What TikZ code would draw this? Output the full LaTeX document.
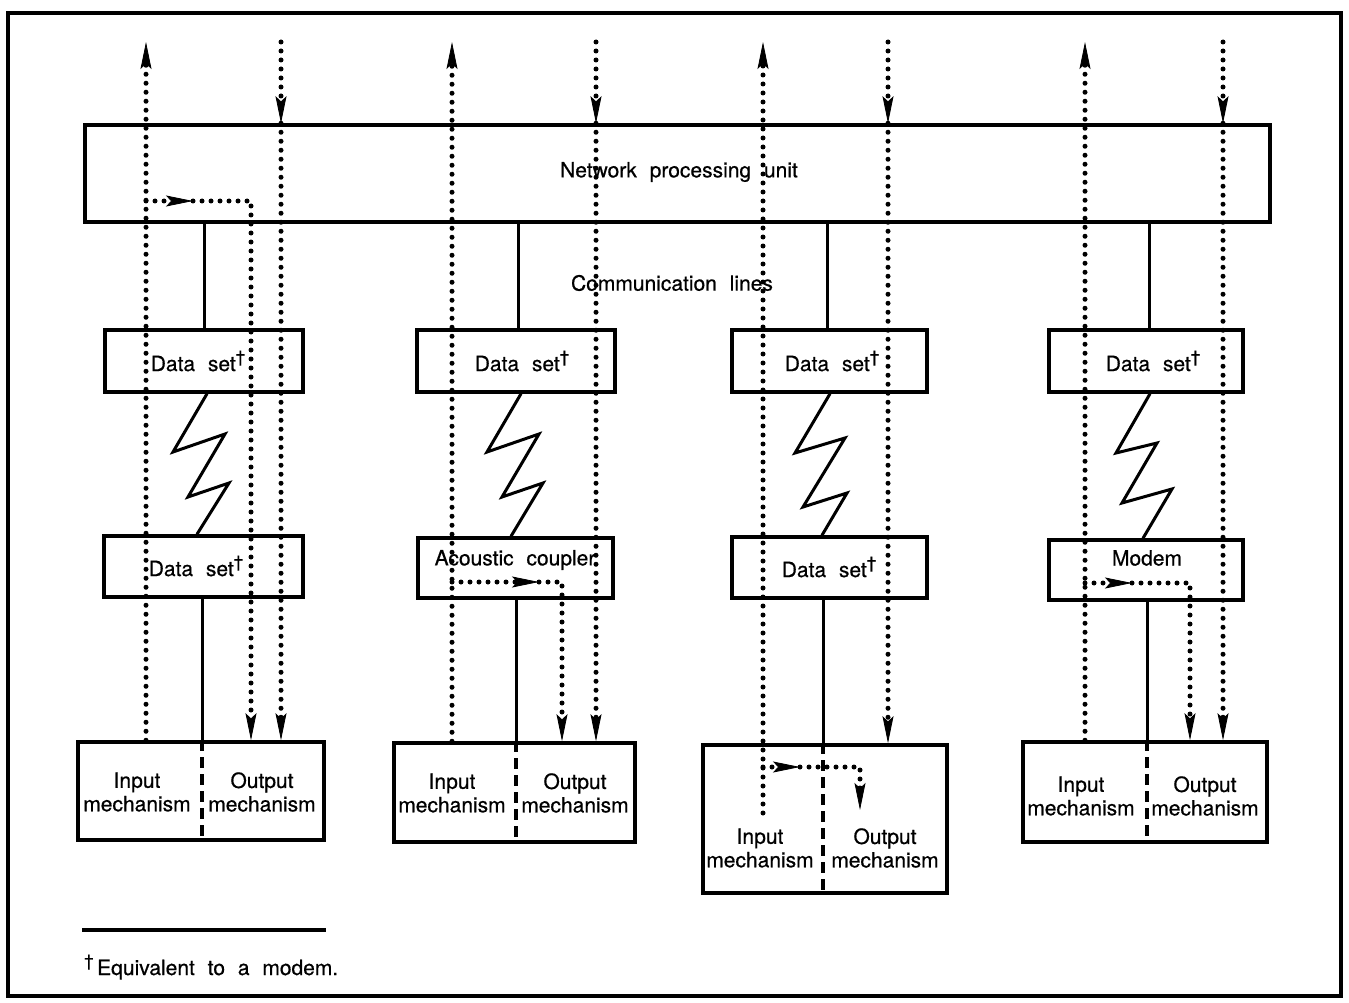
\documentclass[tikz,border=0pt]{standalone}
\usepackage{fontspec}
\setmainfont{TeX Gyre Heros}[WordSpace=2.2, FakeBold=0.6]
\usetikzlibrary{arrows.meta,calc}

% raised footnote dagger
\newcommand{\dagmark}{\raisebox{0.40em}{\fontsize{17}{17}\selectfont †}}

\tikzset{
  box/.style={draw, line width=3.5pt, inner sep=0pt},
  lbl/.style={inner sep=0pt, font=\fontsize{21}{23.5}\selectfont, align=center},
  link/.style={line width=3pt},
  zig/.style={line width=3pt, line join=miter},
  flow/.style={line width=5pt, line cap=round, dash pattern=on 0pt off 9pt},
  tip/.style={-{Stealth[length=27pt,width=11pt,inset=5pt,line width=0.8pt]}},
  divider/.style={line width=3.5pt, dash pattern=on 11pt off 6pt},
}

\begin{document}
\begin{tikzpicture}[x=1pt,y=-1pt]
\useasboundingbox (0,0) rectangle (1349,1003);
\draw[line width=3.5pt] (8,13) rectangle (1341,996);

% network processing unit
\node[box, minimum width=1185pt, minimum height=97pt] (npu) at (677.5,173.5) {};
\node[lbl] (npuText) at (679,172) {Network processing unit};
\node[lbl] (commText) at (672,283) {Communication lines};

% ---------------- column A ----------------
\coordinate (sA) at (204,0);
\coordinate (divA) at (202,0);
\node[box, minimum width=198pt, minimum height=62pt] (dsA1) at (204,361) {};
\node[lbl] (dsA1Text) at (198,361) {Data set\dagmark};
\node[box, minimum width=199pt, minimum height=61pt] (dsA2) at (203.5,566.5) {};
\node[lbl] (dsA2Text) at (196,566) {Data set\dagmark};
\node[box, minimum width=246pt, minimum height=98pt] (termA) at (201,791) {};
\node[lbl] (inA) at (137,792) {Input\\mechanism};
\node[lbl] (outA) at (262,792) {Output\\mechanism};
\draw[link] (npu.south -| sA) -- (dsA1.north -| sA);
\draw[zig] (dsA1.south -| 207,0) -- (173,452) -- (225,434) -- (188,497) -- (229,483) -- (dsA2.north -| 197,0);
\draw[link] (dsA2.south -| divA) -- (termA.north -| divA);
\draw[divider] (termA.north -| divA) -- (termA.south -| divA);
\coordinate (upA) at (146,42);
\coordinate (dnA) at (281,42);
\coordinate (lpA) at (146,201);
\coordinate (lpAtip) at (193,201);
\coordinate (lpAx) at (251,201);
\draw[flow,tip] (termA.north -| upA) -- (upA);
\draw[flow,tip] (dnA) -- (npu.north -| dnA);
\draw[flow,tip] (npu.north -| dnA) -- (termA.north -| dnA);
\draw[flow,tip] (lpA) -- (lpAtip);
\draw[flow,tip] (lpAtip) -- (lpAx) -- (termA.north -| lpAx);

% ---------------- column B ----------------
\coordinate (sB) at (518,0);
\coordinate (divB) at (516,0);
\node[box, minimum width=198pt, minimum height=62pt] (dsB1) at (516,361) {};
\node[lbl] (dsB1Text) at (522,361) {Data set\dagmark};
\node[box, minimum width=195pt, minimum height=60pt] (acB) at (515.5,568) {};
\node[lbl] (acBText) at (515,560) {Acoustic coupler};
\node[box, minimum width=241pt, minimum height=99pt] (termB) at (514.5,792.5) {};
\node[lbl] (inB) at (452,793) {Input\\mechanism};
\node[lbl] (outB) at (575,793) {Output\\mechanism};
\draw[link] (npu.south -| sB) -- (dsB1.north -| sB);
\draw[zig] (dsB1.south -| 521,0) -- (487,452) -- (539,434) -- (502,497) -- (543,483) -- (acB.north -| 511,0);
\draw[link] (acB.south -| divB) -- (termB.north -| divB);
\draw[divider] (termB.north -| divB) -- (termB.south -| divB);
\coordinate (upB) at (452,42);
\coordinate (dnB) at (596,42);
\coordinate (lpB) at (452,582);
\coordinate (lpBtip) at (539,582);
\coordinate (lpBx) at (562,582);
\draw[flow,tip] (termB.north -| upB) -- (upB);
\draw[flow,tip] (dnB) -- (npu.north -| dnB);
\draw[flow,tip] (npu.north -| dnB) -- (termB.north -| dnB);
\draw[flow,tip] (lpB) -- (lpBtip);
\draw[flow,tip] (lpBtip) -- (lpBx) -- (termB.north -| lpBx);

% ---------------- column C ----------------
\coordinate (sC) at (827,0);
\coordinate (divC) at (823,0);
\node[box, minimum width=195pt, minimum height=62pt] (dsC1) at (829.5,361) {};
\node[lbl] (dsC1Text) at (832,361) {Data set\dagmark};
\node[box, minimum width=195pt, minimum height=61pt] (dsC2) at (829.5,567.5) {};
\node[lbl] (dsC2Text) at (829,567) {Data set\dagmark};
\node[box, minimum width=244pt, minimum height=148pt] (termC) at (825,819) {};
\node[lbl] (inC) at (760,848) {Input\\mechanism};
\node[lbl] (outC) at (885,848) {Output\\mechanism};
\draw[link] (npu.south -| sC) -- (dsC1.north -| sC);
\draw[zig] (dsC1.south -| 830,0) -- (795,453) -- (845,438) -- (803,507) -- (847,493) -- (dsC2.north -| 822,0);
\draw[link] (dsC2.south -| divC) -- (termC.north -| divC);
\draw[divider] (termC.north -| divC) -- (termC.south -| divC);
\coordinate (upC) at (763,42);
\coordinate (upCbase) at (763,813);
\coordinate (dnC) at (888,42);
\coordinate (lpC) at (763,767);
\coordinate (lpCtip) at (800,767);
\coordinate (lpCx) at (860,767);
\coordinate (lpCend) at (860,810);
\draw[flow,tip] (upCbase) -- (upC);
\draw[flow,tip] (dnC) -- (npu.north -| dnC);
\draw[flow,tip] (npu.north -| dnC) -- (termC.north -| dnC);
\draw[flow,tip] (lpC) -- (lpCtip);
\draw[flow,tip] (lpCtip) -- (lpCx) -- (lpCend);

% ---------------- column D ----------------
\coordinate (sD) at (1149,0);
\coordinate (divD) at (1147,0);
\node[box, minimum width=194pt, minimum height=62pt] (dsD1) at (1146,361) {};
\node[lbl] (dsD1Text) at (1153,361) {Data set\dagmark};
\node[box, minimum width=194pt, minimum height=60pt] (mdD) at (1146,570) {};
\node[lbl] (mdDText) at (1147,558) {Modem};
\node[box, minimum width=244pt, minimum height=100pt] (termD) at (1145,792) {};
\node[lbl] (inD) at (1081,796) {Input\\mechanism};
\node[lbl] (outD) at (1205,796) {Output\\mechanism};
\draw[link] (npu.south -| sD) -- (dsD1.north -| sD);
\draw[zig] (dsD1.south -| 1150,0) -- (1116,453) -- (1157,443) -- (1122,503) -- (1172,489) -- (mdD.north -| 1143,0);
\draw[link] (mdD.south -| divD) -- (termD.north -| divD);
\draw[divider] (termD.north -| divD) -- (termD.south -| divD);
\coordinate (upD) at (1085,42);
\coordinate (dnD) at (1223,42);
\coordinate (lpD) at (1085,583);
\coordinate (lpDtip) at (1132,583);
\coordinate (lpDx) at (1190,583);
\draw[flow,tip] (termD.north -| upD) -- (upD);
\draw[flow,tip] (dnD) -- (npu.north -| dnD);
\draw[flow,tip] (npu.north -| dnD) -- (termD.north -| dnD);
\draw[flow,tip] (lpD) -- (lpDtip);
\draw[flow,tip] (lpDtip) -- (lpDx) -- (termD.north -| lpDx);

% footnote
\draw[line width=3.5pt] (82,930) -- (326,930);
\node[lbl, anchor=base west] (note) at (84,975) {\dagmark\,Equivalent to a modem.};
\end{tikzpicture}
\end{document}
